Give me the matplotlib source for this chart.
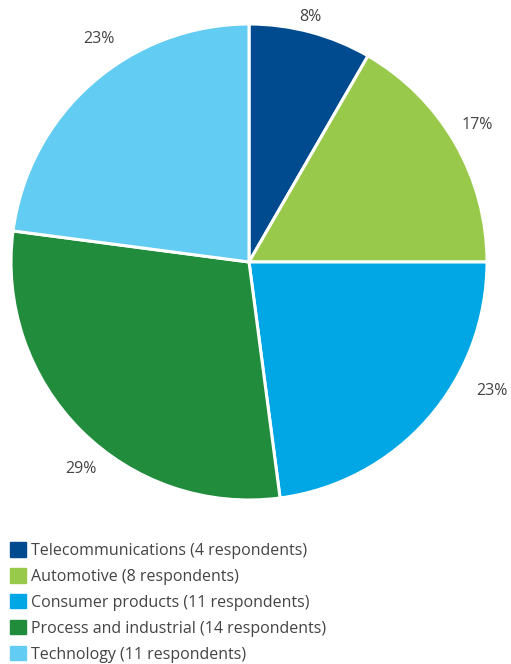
import matplotlib
matplotlib.use("Agg")
import numpy as np
import matplotlib.pyplot as plt

categories = ["Telecommunications", "Automotive", "Consumer products",
              "Process and industrial", "Technology"]
respondents = [4, 8, 11, 14, 11]
pct_labels = ["8%", "17%", "23%", "29%", "23%"]
colors = ["#004b8f", "#99c94a", "#00a7e4", "#218c3c", "#62ccf3"]

# where each % label sits: angle clockwise from 12 o'clock, distance in radii
label_angle = [14, 59, 118, 219, 326]
label_dist = [1.06, 1.12, 1.155, 1.12, 1.13]

plt.rcParams["font.family"] = ["Open Sans", "DejaVu Sans"]
text_color = "#444444"

fig = plt.figure(figsize=(5.11, 6.64), dpi=100)
ax = fig.add_axes([11 / 511, 164 / 664, 476 / 511, 476 / 664])

wedges, texts = ax.pie(
    respondents,
    labels=pct_labels,
    colors=colors,
    startangle=90,
    counterclock=False,
    wedgeprops=dict(edgecolor="white", linewidth=2.2),
    textprops=dict(fontsize=11.5, color=text_color),
)
for t, a, d in zip(texts, label_angle, label_dist):
    r = np.deg2rad(a)
    t.set_position((d * np.sin(r), d * np.cos(r)))
    t.set_ha("center")
    t.set_va("center")
    t.set_clip_on(False)
ax.set_xlim(-1, 1)
ax.set_ylim(-1, 1)
ax.set_aspect("equal")

handles = [plt.Rectangle((0, 0), 1, 1, color=c) for c in colors]
legend_labels = [f"{c} ({n} respondents)" for c, n in zip(categories, respondents)]
leg = fig.legend(
    handles, legend_labels,
    loc="upper left",
    bbox_to_anchor=(4 / 511, 1 - 536 / 664),
    frameon=False,
    fontsize=11.5,
    handlelength=1.0,
    handleheight=1.0,
    handletextpad=0.3,
    labelspacing=0.58,
    borderaxespad=0,
)
for t in leg.get_texts():
    t.set_color(text_color)

fig.savefig("out.png", dpi=100)
plt.close(fig)
